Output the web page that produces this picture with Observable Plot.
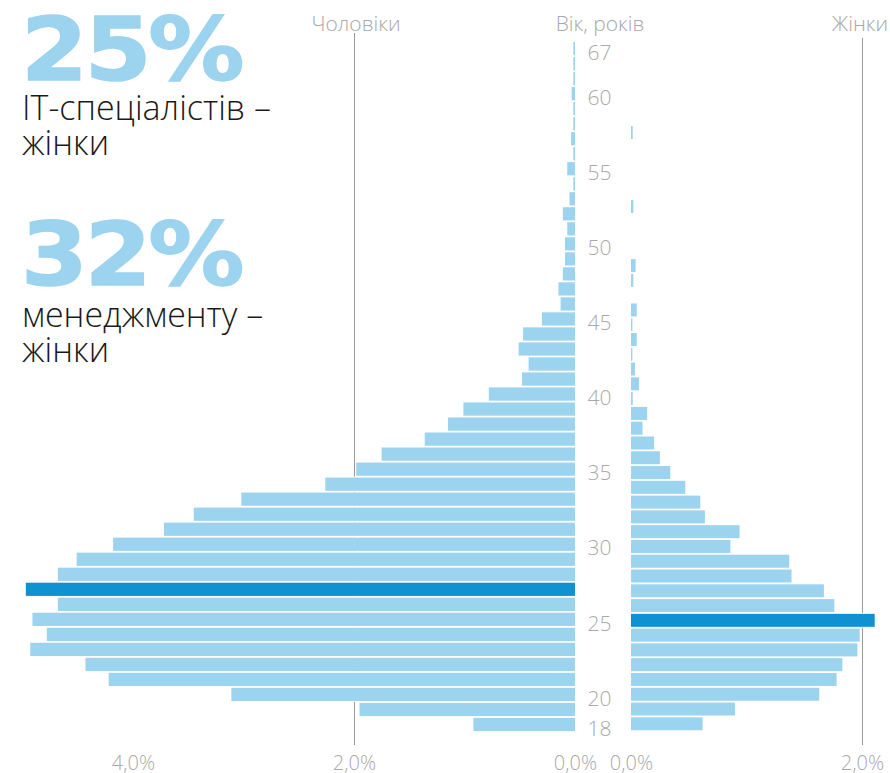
<!DOCTYPE html>
<html><head><meta charset="utf-8">
<script src="https://cdn.jsdelivr.net/npm/d3@7"></script>
<script src="https://cdn.jsdelivr.net/npm/@observablehq/plot@0.6"></script>
<style>
html,body{margin:0;padding:0;background:#fff;}
#chart{position:relative;width:890px;height:773px;overflow:hidden;font-family:"Open Sans",sans-serif;}
#chart > svg{position:absolute;left:0;top:0;}
</style></head><body><div id="chart"></div>
<script>
// Age rows, bottom (18) to top (67)
const ages = ["18","19","20","21","22","23","24","25","26","27","28","29","30","31","32","33","34","35","36","37","38","39","40","41","42","43","44","45","46","47","48","49","50","51","52","53","54","55","56","57","58","59","60","61","62","67"];
// Share of all IT specialists, %, men
const menShare = [0.92,1.95,3.11,4.22,4.43,4.93,4.78,4.91,4.68,4.97,4.68,4.51,4.18,3.72,3.45,3.02,2.26,1.98,1.75,1.36,1.15,1.01,0.78,0.48,0.42,0.51,0.47,0.30,0.13,0.15,0.11,0.09,0.09,0.07,0.11,0.05,0.015,0.07,0.015,0.035,0.015,0.015,0.03,0.015,0.015,0.015];
// Share of all IT specialists, %, women
const womenShare = [0.62,0.90,1.63,1.78,1.83,1.96,1.98,2.11,1.76,1.67,1.39,1.37,0.86,0.94,0.64,0.60,0.47,0.34,0.25,0.20,0.10,0.14,0.015,0.07,0.035,0.012,0.05,0.012,0.05,0,0.02,0.04,0,0,0,0.02,0,0,0,0,0.015,0,0,0,0,0];
const ageTicks = ["18","20","25","30","35","40","45","50","55","60","67"];
const menTicks = [0,2,4];
const womenTicks = [0,2];
const bigNumbers = ["25%","32%"];
const bigCaptions = [["IT-спеціалістів –","жінки"],["менеджменту –","жінки"]];
const headers = {men:"Чоловіки", age:"Вік, років", women:"Жінки"};

const light = "#9cd3ee", dark = "#0f91d2", grid = "#9a9a9a", labelColor = "#a9a9a9";
const fmt = d => d.toFixed(1).replace(".", ",") + "%";
const men = ages.map((a,i)=>({age:a, value:menShare[i]}));
const women = ages.map((a,i)=>({age:a, value:womenShare[i]}));
const menMax = d3.max(menShare), womenMax = d3.max(womenShare);
const yDomain = ages.slice().reverse();
const chart = document.getElementById("chart");
const gap = 0.9;

const left = Plot.plot({
  width: 890, height: 773, marginTop: 33, marginBottom: 28, marginLeft: 0, marginRight: 0,
  x: {domain: [0, 5.2], range: [575, 575 - 5.2*110.5], axis: null},
  y: {domain: yDomain, range: [41.1, 732.0], padding: 0, round: false, axis: null},
  color: {type: "identity"},
  style: {fontFamily: "'Open Sans', sans-serif", background: "transparent", overflow: "visible"},
  marks: [
    Plot.ruleX([2], {x: d=>d, stroke: grid}),
    Plot.ruleX([4], {x: d=>d, y1: () => "42", insetTop: 9, stroke: grid}),
    Plot.ruleX([0], {x: d=>d, y1: () => "18", insetTop: 14, stroke: grid}),
    Plot.barX(men, {x: "value", y: "age", fill: "white"}),
    Plot.barX(men, {x: "value", y: "age", insetTop: gap, insetBottom: gap, fill: d => d.value === menMax ? dark : light}),
    Plot.text(ageTicks, {x: () => 0, y: d=>d, text: d=>d, dx: 12, dy: 4, textAnchor: "start", fill: labelColor, fontSize: 21, fontWeight: 300}),
    Plot.text(menTicks, {x: d=>d, frameAnchor: "bottom", lineAnchor: "middle", dy: 18, text: fmt, fill: labelColor, fontSize: 20, fontWeight: 300})
  ]
});
chart.appendChild(left);

const right = Plot.plot({
  width: 890, height: 773, marginTop: 38, marginBottom: 28, marginLeft: 0, marginRight: 0,
  x: {domain: [0, 2.3], range: [631, 631 + 2.3*115.5], axis: null},
  y: {domain: yDomain, range: [51.3, 731.2], padding: 0, round: false, axis: null},
  color: {type: "identity"},
  style: {fontFamily: "'Open Sans', sans-serif", background: "transparent", overflow: "visible"},
  marks: [
    Plot.ruleX([2], {x: d=>d, stroke: grid}),
    Plot.barX(women, {x: "value", y: "age", fill: "white"}),
    Plot.barX(women, {x: "value", y: "age", insetTop: gap, insetBottom: gap, fill: d => d.value === womenMax ? dark : light}),
    Plot.ruleX([0], {x: d=>d, y1: () => "67", insetTop: 11, stroke: grid}),
    Plot.text(womenTicks, {x: d=>d, frameAnchor: "bottom", lineAnchor: "middle", dy: 18, text: fmt, fill: labelColor, fontSize: 20, fontWeight: 300})
  ]
});
chart.appendChild(right);

// Annotation layer
const svg = d3.select(chart).append("svg").attr("width", 890).attr("height", 773)
  .style("position","absolute").style("left","0").style("top","0").style("pointer-events","none");
const bigBase = [80, 285];
const capBase = [[120,155],[327,362]];
bigNumbers.forEach((t,i) => {
  svg.append("text").attr("transform", `translate(21,${bigBase[i]}) scale(1.08,0.98)`)
    .attr("font-family", "'DejaVu Sans', sans-serif").attr("font-weight", 700)
    .attr("font-size", 89).attr("fill", light).attr("stroke", light).attr("stroke-width", 1.5)
    .attr("letter-spacing", -3).text(t);
  bigCaptions[i].forEach((line,j) => {
    svg.append("text").attr("x", 22).attr("y", capBase[i][j])
      .attr("font-family", "'Open Sans', sans-serif").attr("font-weight", 300)
      .attr("font-size", 34).attr("fill", "#1a1a1a").text(line);
  });
});
const hdr = [[headers.men, 356, "middle"], [headers.age, 600, "middle"], [headers.women, 888, "end"]];
hdr.forEach(([t,x,a]) => {
  svg.append("text").attr("x", x).attr("y", 31).attr("text-anchor", a)
    .attr("font-family", "'Open Sans', sans-serif").attr("font-weight", 300)
    .attr("font-size", 21).attr("fill", labelColor).text(t);
});
</script>
</body></html>
